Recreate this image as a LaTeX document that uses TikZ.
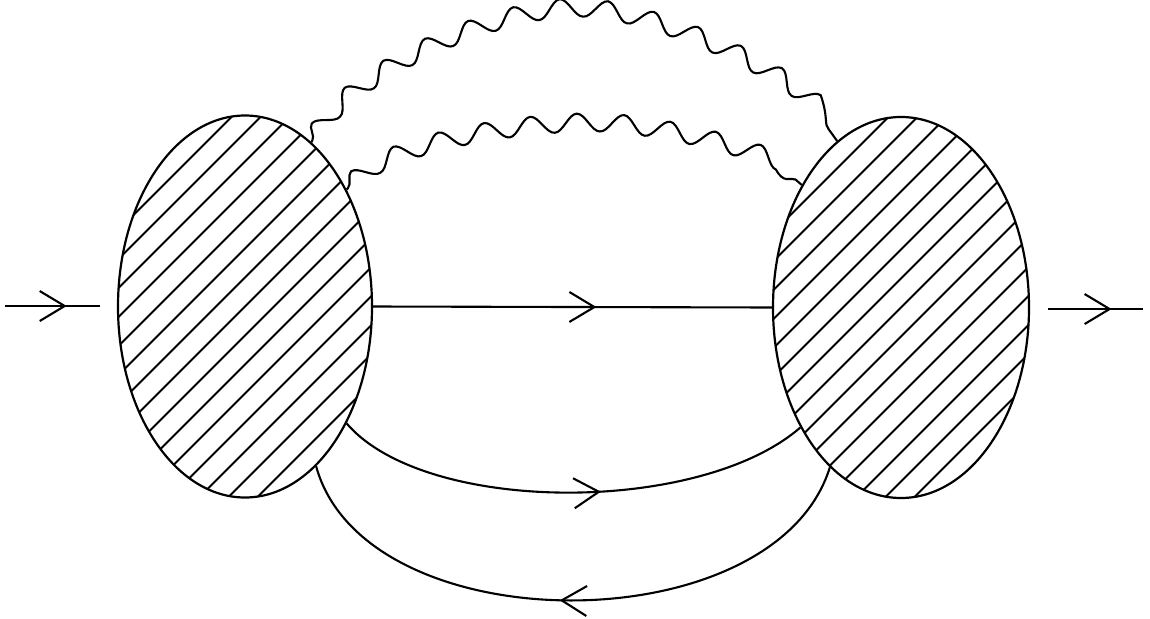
\documentclass[tikz,border=0pt]{standalone}
\usetikzlibrary{shapes.geometric,arrows.meta,decorations.pathmorphing,decorations.markings,calc}
\tikzset{mytip/.tip={Straight Barb[length=25pt,width=30pt]}}
\begin{document}
\begin{tikzpicture}[x=1pt,y=-1pt,
  ln/.style={line width=2.1pt},
  hatch/.style={line width=1.8pt},
  blob/.style={ellipse,draw,line width=2.2pt,inner sep=0pt,
    path picture={\foreach \k in {-20,...,20}{\draw[hatch] ($(path picture bounding box.center)+(\k*29-300,300)$) -- ++(600,-600);}}},
  midarrow/.style={postaction={decorate},decoration={markings,mark=at position #1 with {\arrow[line width=2.1pt]{mytip}}}},
  photon/.style={line width=2.1pt,decorate,decoration={snake,amplitude=9pt,segment length=46pt,pre length=2pt,post length=2pt}}]
\useasboundingbox (0,0) rectangle (1150,618);
\node[blob,minimum width=254pt,minimum height=382pt] (L) at (245,306.5) {};
\node[blob,minimum width=256pt,minimum height=381pt] (R) at (901,307.5) {};
\coordinate (inA) at (5,306);
\coordinate (inB) at (100,306);
\coordinate (outA) at (1048,309);
\coordinate (outB) at (1143,309);
\coordinate (topO) at (570,17);
\coordinate (topI) at (584,130);
\draw[ln,midarrow=0.65] (inA) -- (inB);
\draw[ln,midarrow=0.67] (outA) -- (outB);
\draw[ln,midarrow=0.56] (L.east) -- (R.west);
\draw[ln,midarrow=0.56] (L.-49) .. controls (425,515) and (700,515) .. (R.230);
\draw[ln,midarrow=0.52] (R.246.6) .. controls (775,645) and (365,645) .. (L.-66.2);
\draw[photon] (L.68) .. controls (345,80) and (490,17) .. (topO) .. controls (650,17) and (800,85) .. (R.111.3);
\draw[photon] (L.49.3) .. controls (380,150) and (510,130) .. (topI) .. controls (660,130) and (780,165) .. (R.129.4);
\end{tikzpicture}
\end{document}
